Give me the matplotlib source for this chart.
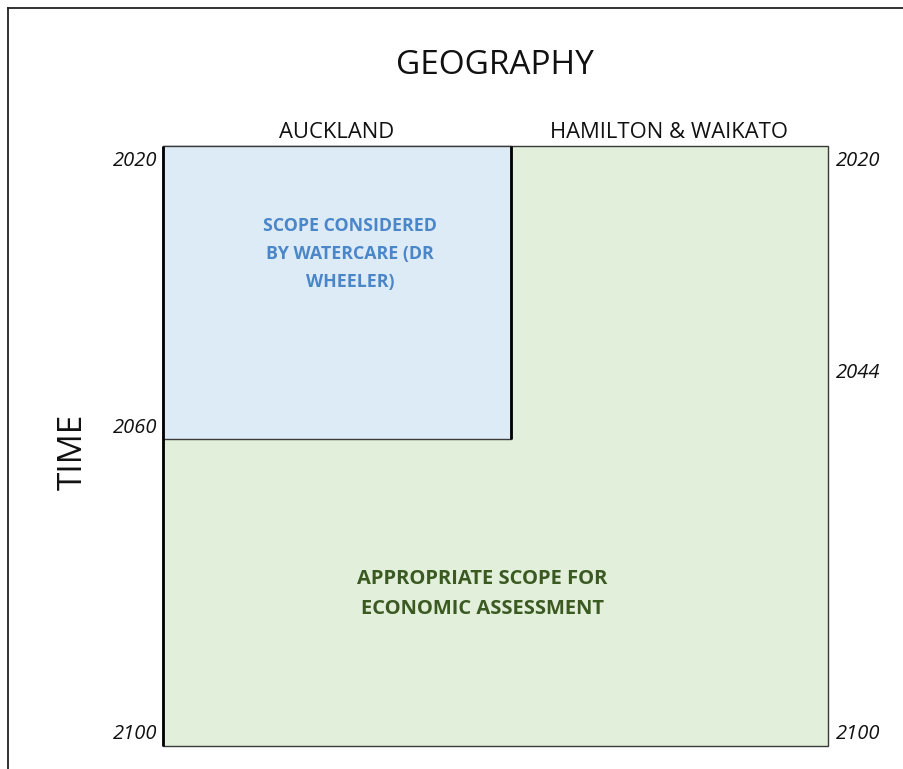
import matplotlib
matplotlib.use("Agg")
import matplotlib.pyplot as plt
from matplotlib.patches import Rectangle
from matplotlib.lines import Line2D

plt.rcParams['font.family'] = ['Open Sans', 'DejaVu Sans']

# Data
regions = ["AUCKLAND", "HAMILTON & WAIKATO"]
region_bounds = [0.0, 0.523, 1.0]  # relative x extent of each region column
year_start, year_end = 2020, 2100
watercare_end = 2059               # bottom of the Watercare scope box (labelled 2060)
left_labels = ["2020", "2060", "2100"]
right_labels = ["2020", "2044", "2100"]
watercare_text = "SCOPE CONSIDERED\nBY WATERCARE (DR\nWHEELER)"
econ_text = "APPROPRIATE SCOPE FOR\nECONOMIC ASSESSMENT"

W, H = 904, 769
fig = plt.figure(figsize=(W / 100, H / 100), dpi=100)
ax = fig.add_axes([163 / W, 23 / H, (828 - 163) / W, (746 - 146) / H])
ax.set_xlim(region_bounds[0], region_bounds[-1])
ax.set_ylim(year_end, year_start)
ax.axis('off')

# outer frame (left and top only visible)
fig.add_artist(Line2D([8 / W, 8 / W], [0, 1 - 8 / H], transform=fig.transFigure,
                      color='#222222', lw=1.3))
fig.add_artist(Line2D([8 / W, 1], [1 - 8 / H, 1 - 8 / H], transform=fig.transFigure,
                      color='#222222', lw=1.3))

# green: full scope
ax.add_patch(Rectangle((region_bounds[0], year_start), region_bounds[-1] - region_bounds[0],
                       year_end - year_start, facecolor='#e2efda', edgecolor='#3a3a3a',
                       lw=1.0, clip_on=False))
# blue: Watercare scope
ax.add_patch(Rectangle((region_bounds[0], year_start), region_bounds[1] - region_bounds[0],
                       watercare_end - year_start, facecolor='#ddebf7', edgecolor='#3a3a3a',
                       lw=1.0, clip_on=False))
ax.plot([region_bounds[0]] * 2, [year_start, year_end], color='black', lw=2.0,
        solid_capstyle='butt', clip_on=False)
ax.plot([region_bounds[1]] * 2, [year_start, watercare_end], color='black', lw=2.0,
        solid_capstyle='butt', clip_on=False)

# titles
fig.text(495 / W, 1 - 66 / H, "GEOGRAPHY", ha='center', va='center', fontsize=24,
         color='#111111')
fig.text(73 / W, 1 - 452 / H, "TIME", ha='center', va='center', fontsize=24,
         rotation=90, color='#111111')

# region labels
for i, name in enumerate(regions):
    xc = (region_bounds[i] + region_bounds[i + 1]) / 2
    ax.text(xc, year_start - 0.35, name, ha='center', va='bottom', fontsize=15.8,
            color='#111111')

# year labels (left)
ly = [161, 428, 734]
for lab, y in zip(left_labels, ly):
    fig.text(157 / W, 1 - y / H, lab, ha='right', va='center', fontsize=14.5,
             style='italic', color='#111111')
# year labels (right)
ry = [161, 373, 734]
for lab, y in zip(right_labels, ry):
    fig.text(836 / W, 1 - y / H, lab, ha='left', va='center', fontsize=14.5,
             style='italic', color='#111111')

# inner texts
ax.text(region_bounds[1] / 2 + 0.02, 2020 + (254 - 146) / 7.5,
        watercare_text, ha='center', va='center', fontsize=12.8, fontweight='bold',
        color='#4a86c8', linespacing=1.72)
ax.text((482.5 - 163) / 665, 2020 + (594 - 146) / 7.5, econ_text, ha='center',
        va='center', fontsize=14.5, fontweight='bold', color='#3b5a22',
        linespacing=1.65)

fig.savefig("out.png", dpi=100)
